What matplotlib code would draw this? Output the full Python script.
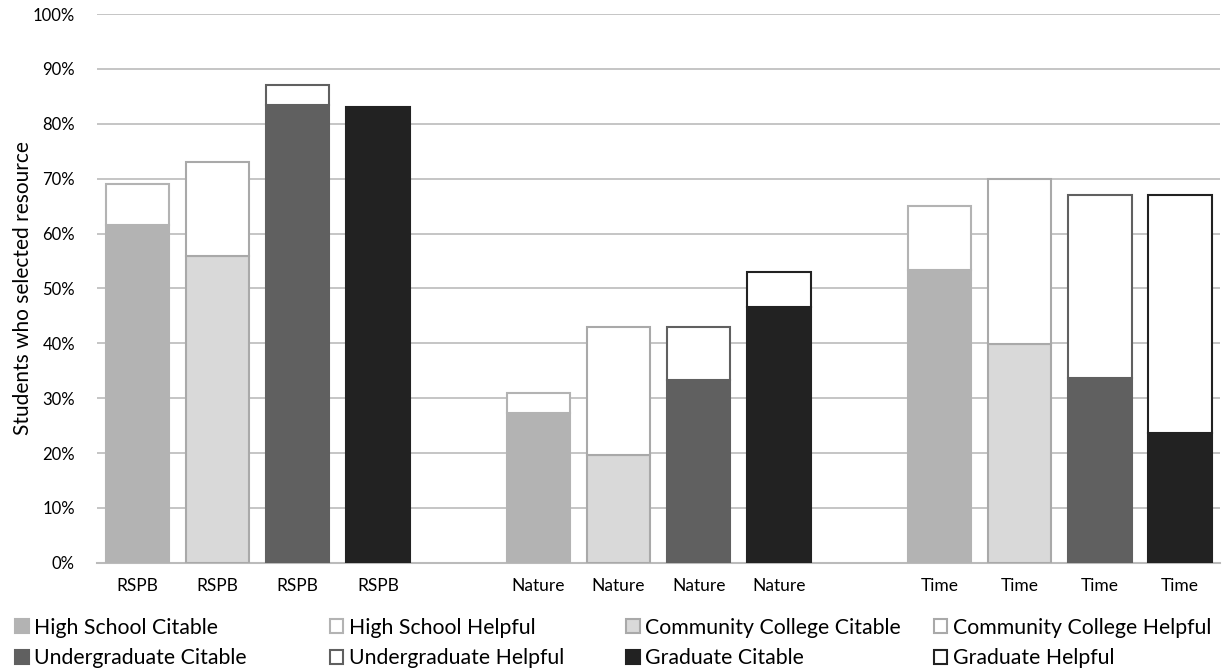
import numpy as np
import matplotlib.pyplot as plt
from matplotlib.patches import Patch

plt.rcParams['font.family'] = ['Lato', 'DejaVu Sans']

labels = ['RSPB'] * 4 + [''] + ['Nature'] * 4 + [''] + ['Time'] * 4
# percent of students; groups: High School, Community College, Undergraduate, Graduate
citable = [61.5, 56.0, 83.5, 83.0, 27.3, 19.7, 33.3, 46.7, 53.3, 39.8, 33.7, 23.7]
helpful = [7.5, 17.0, 3.5, 0.0, 3.7, 23.3, 9.7, 6.3, 11.7, 30.2, 33.3, 43.3]

groups = ['High School', 'Community College', 'Undergraduate', 'Graduate']
fills = ['#b3b3b3', '#d9d9d9', '#606060', '#222222']
edges = ['#b3b3b3', '#a9a9a9', '#606060', '#222222']

pos = [0, 1, 2, 3, 5, 6, 7, 8, 10, 11, 12, 13]

fig = plt.figure(figsize=(12.3, 6.7), dpi=100)
ax = fig.add_axes([0.079, 0.16, 0.913, 0.819])

for i, x in enumerate(pos):
    g = i % 4
    ax.bar(x, citable[i], width=0.79, color=fills[g], edgecolor=edges[g], linewidth=1.5, zorder=3)
    if helpful[i] > 0:
        ax.bar(x, helpful[i], bottom=citable[i], width=0.79, color='white',
               edgecolor=edges[g], linewidth=1.5, zorder=3)

ax.set_xlim(-0.5, 13.5)
ax.set_ylim(0, 100)
ax.set_yticks(np.arange(0, 101, 10))
ax.set_yticklabels(['%d%%' % v for v in range(0, 101, 10)], fontsize=12)
ax.set_xticks(range(14))
ax.set_xticklabels(labels, fontsize=12.5)
ax.tick_params(axis='x', length=0, pad=11)
ax.tick_params(axis='y', length=0, pad=16)
ax.yaxis.grid(True, color='#c0c0c0', linewidth=1.3, zorder=0)
for s in ['top', 'right', 'left']:
    ax.spines[s].set_visible(False)
ax.spines['bottom'].set_color('#bbbbbb')
ax.spines['bottom'].set_linewidth(1.5)
ax.set_ylabel('Students who selected resource', fontsize=15, labelpad=0)

# legend laid out row by row, one legend per column
col_x = [0.012, 0.268, 0.509, 0.759]
for c in range(4):
    handles = []
    for row in range(2):
        g = c // 2 + 2 * row
        if c % 2 == 0:
            h = Patch(facecolor=fills[g], edgecolor=edges[g], linewidth=1.5,
                      label=groups[g] + ' Citable')
        else:
            h = Patch(facecolor='white', edgecolor=edges[g], linewidth=1.5,
                      label=groups[g] + ' Helpful')
        handles.append(h)
    fig.legend(handles=handles, loc='upper left', bbox_to_anchor=(col_x[c], 0.078),
               frameon=False, fontsize=15.3, handlelength=0.65, handleheight=0.65,
               handletextpad=0.25, labelspacing=0.5, borderaxespad=0, borderpad=0)

fig.savefig('out.png', dpi=100)
